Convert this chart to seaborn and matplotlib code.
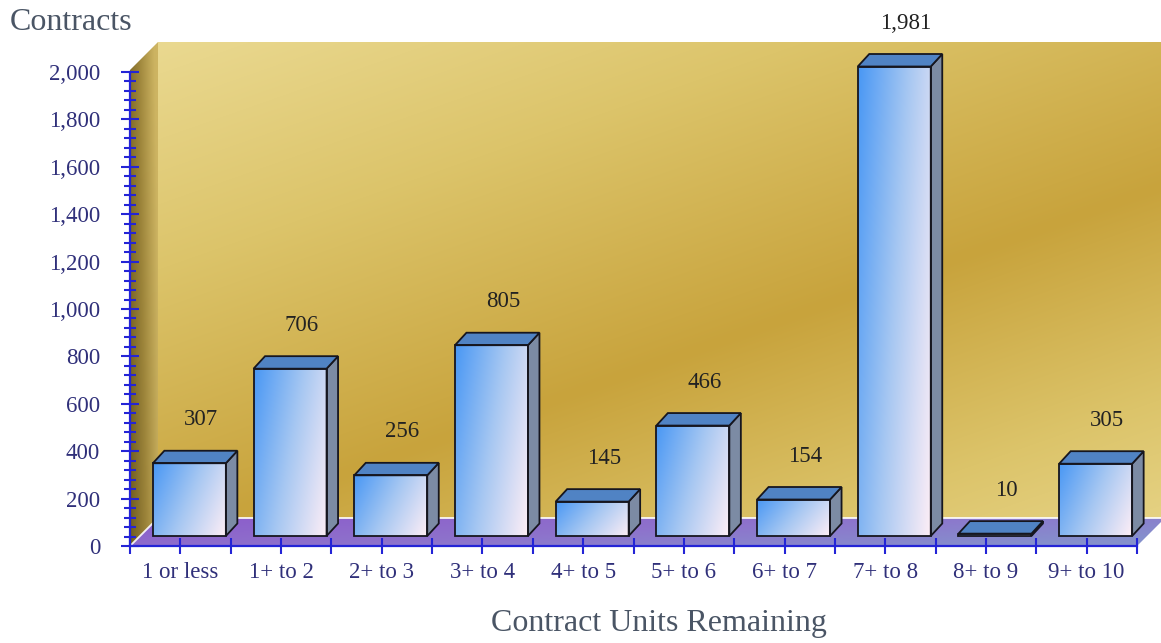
import numpy as np
import pandas as pd
import matplotlib
matplotlib.use("Agg")
import matplotlib.pyplot as plt
from matplotlib.patches import Polygon
from matplotlib.colors import to_rgb
import seaborn as sns

# data
categories = ["1 or less", "1+ to 2", "2+ to 3", "3+ to 4", "4+ to 5",
              "5+ to 6", "6+ to 7", "7+ to 8", "8+ to 9", "9+ to 10"]
contracts = [307, 706, 256, 805, 145, 466, 154, 1981, 10, 305]
y_ticks = [0, 200, 400, 600, 800, 1000, 1200, 1400, 1600, 1800, 2000]

W, H = 1161, 643
AX_L, AX_B, AX_W, AX_H = 130, 97, 1007, 474   # axes box in pixels
XU = AX_W / 10.0      # pixels per category
YU = AX_H / 2000.0    # pixels per contract

BLUE = "#2424d6"
LABEL = "#30307a"


def px_x(p):
    return p / XU


def px_y(p):
    return p / YU


def ramp(t, stops):
    # piecewise-linear colour ramp, t in [0, 1]
    pos = np.linspace(0, 1, len(stops))
    cols = np.array([to_rgb(c) for c in stops])
    out = np.zeros(t.shape + (3,))
    for k in range(3):
        out[..., k] = np.interp(t, pos, cols[:, k])
    return out


def grad_fill(ax, fig, verts, img, zorder):
    poly = Polygon(verts, closed=True, transform=ax.transData)
    xs = [v[0] for v in verts]
    ys = [v[1] for v in verts]
    im = ax.imshow(img, extent=[min(xs), max(xs), min(ys), max(ys)],
                   aspect="auto", interpolation="bilinear", zorder=zorder)
    im.set_clip_box(fig.bbox)
    im.set_clip_path(poly)
    return im


sns.set_style("white")
plt.rcParams["font.family"] = ["Liberation Serif", "DejaVu Serif"]

df = pd.DataFrame({"range": categories, "contracts": contracts})

fig = plt.figure(figsize=(W / 100, H / 100), dpi=100)
ax = fig.add_axes([AX_L / W, AX_B / H, AX_W / W, AX_H / H])
ax.patch.set_alpha(0)

# ---- walls and floor -------------------------------------------------
depth_x, depth_y = px_x(28), px_y(28)
wall_top = px_y(546 - 42)

# back wall, diagonal gold gradient computed in pixel space
gx = np.linspace(-0.5 + depth_x, 10.5, 300)
gy = np.linspace(wall_top, depth_y, 220)
X, Y = np.meshgrid(gx, gy)
PX = AX_L + (X + 0.5) * XU
PY = (H - AX_B) - Y * YU
s = 0.33 * PX + 0.94 * PY
t = np.interp(s, [60, 330, 560, 900], [0.0, 0.55, 1.0, 0.15])
back = ramp(t, ["#ecdc96", "#dcc46a", "#c8a33c"])
grad_fill(ax, fig, [(-0.5 + depth_x, depth_y), (10.5, depth_y),
                    (10.5, wall_top), (-0.5 + depth_x, wall_top)], back, 0.2)

# left wall
lx = np.linspace(0, 1, 60)
ly = np.linspace(0, 1, 200)
LX, LY = np.meshgrid(lx, ly)
left = ramp(np.clip(0.85 * LX + 0.25 * (1 - LY), 0, 1),
            ["#6f5c20", "#9c843a", "#cdb462"])
grad_fill(ax, fig, [(-0.5, 0), (-0.5 + depth_x, depth_y),
                    (-0.5 + depth_x, wall_top), (-0.5, wall_top - depth_y)],
          left, 0.2)

# floor
fx = np.linspace(0, 1, 300)
fy = np.linspace(0, 1, 20)
FX, FY = np.meshgrid(fx, fy)
floor = ramp(np.clip(0.75 * FX + 0.35 * FY, 0, 1),
             ["#8c5ccb", "#8e72cc", "#8590cc"])
grad_fill(ax, fig, [(-0.5, 0), (9.5, 0), (9.5 + depth_x, depth_y),
                    (-0.5 + depth_x, depth_y)], floor, 0.3)
ax.plot([-0.5, -0.5 + depth_x, 10.5], [0, depth_y, depth_y],
        color="white", lw=1.4, alpha=0.85, zorder=0.4, clip_on=False)

# ---- bars --------------------------------------------------------------
sns.barplot(data=df, x="range", y="contracts", width=0.725, errorbar=None,
            color="#6aa8f0", ax=ax)

bar_dx, bar_dy = px_x(11.5), px_y(12.5)
shift_x, lift_y = px_x(9), px_y(10)
edge = "#16161f"

for p, v in zip(ax.patches, contracts):
    p.set_x(p.get_x() + shift_x)
    p.set_y(lift_y)
    x0, w, y0, h = p.get_x(), p.get_width(), p.get_y(), p.get_height()
    p.set_facecolor("none")
    p.set_edgecolor(edge)
    p.set_linewidth(1.3)
    p.set_zorder(2.6)
    p.set_clip_on(False)

    # front face gradient: blue at top-left to pale pink at bottom-right
    u = np.linspace(0, 1, 40)
    r = np.linspace(0, 1, 80)
    U, R = np.meshgrid(u, r)
    front = ramp(np.clip(0.72 * U + 0.3 * R, 0, 1),
                 ["#4a98f4", "#a6c7f2", "#fbedf6"])
    grad_fill(ax, fig, [(x0, y0), (x0 + w, y0), (x0 + w, y0 + h), (x0, y0 + h)],
              front, 2.0)

    top = [(x0, y0 + h), (x0 + w, y0 + h),
           (x0 + w + bar_dx, y0 + h + bar_dy), (x0 + bar_dx, y0 + h + bar_dy)]
    side = [(x0 + w, y0), (x0 + w + bar_dx, y0 + bar_dy),
            (x0 + w + bar_dx, y0 + h + bar_dy), (x0 + w, y0 + h)]
    ax.add_patch(Polygon(side, closed=True, facecolor="#7c8ba4", edgecolor=edge,
                         lw=1.3, zorder=2.4, clip_on=False))
    ax.add_patch(Polygon(top, closed=True, facecolor="#5083c4", edgecolor=edge,
                         lw=1.3, zorder=2.5, clip_on=False))

    ax.text(x0 + w / 2 + bar_dx, y0 + h + bar_dy + px_y(31), f"{v:,}",
            ha="center", va="center", fontsize=16.5, color="#222222", zorder=3)

# ---- axes --------------------------------------------------------------
ax.set_xlim(-0.5, 9.5)
ax.set_ylim(0, 2000)
ax.set_xticks(range(len(categories)))
ax.set_xticklabels(categories)
ax.set_xticks(np.arange(-0.5, 10, 1), minor=True)
ax.set_yticks(y_ticks)
ax.set_yticklabels([f"{v:,}" for v in y_ticks])
ax.set_yticks(np.arange(0, 2001, 40), minor=True)

ax.tick_params(which="both", bottom=True, left=True, direction="inout",
               color=BLUE, width=1.5)
ax.tick_params(axis="y", which="major", length=13, pad=15, labelsize=16.5,
               labelcolor=LABEL)
ax.tick_params(axis="y", which="minor", length=8)
ax.tick_params(axis="x", which="both", length=11)
ax.tick_params(axis="x", which="major", pad=6, labelsize=16.5, labelcolor=LABEL)

for side_name in ["top", "right"]:
    ax.spines[side_name].set_visible(False)
for side_name in ["left", "bottom"]:
    ax.spines[side_name].set_color(BLUE)
    ax.spines[side_name].set_linewidth(1.6)

ax.set_xlabel("Contract Units Remaining", fontsize=23, color="#4a5565")
ax.xaxis.label.set_va("center")
ax.xaxis.set_label_coords((659 - AX_L) / AX_W, (546 - 623) / AX_H)
ax.set_ylabel("Contracts", fontsize=23, color="#4a5565", rotation=0)
ax.yaxis.label.set_ha("left")
ax.yaxis.label.set_va("center")
ax.yaxis.set_label_coords((10 - AX_L) / AX_W, (546 - 23) / AX_H)

fig.savefig("out.png", dpi=100)
